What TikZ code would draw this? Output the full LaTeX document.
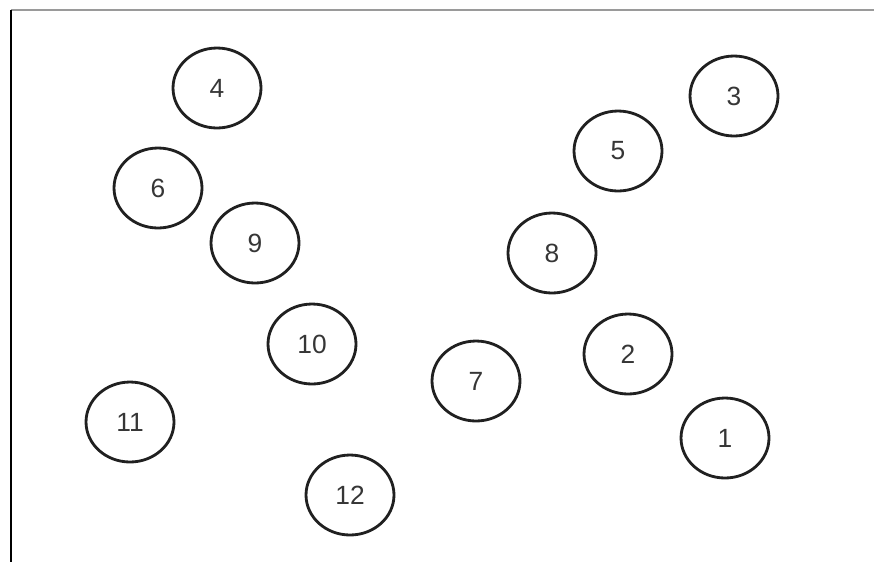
\documentclass[tikz,border=0pt]{standalone}
\usepackage{fontspec}
\setmainfont{Liberation Sans}
\usepackage{xcolor}
\usepackage{tikz}
\usetikzlibrary{shapes.geometric}
\definecolor{ringdark}{HTML}{202020}
\definecolor{framegray}{HTML}{9A9A9A}

\begin{document}
\begin{tikzpicture}[
  x=0.02cm, y=-0.02cm,
  numRing/.style={ellipse, draw=ringdark, line width=1.6pt, minimum width=1.76cm,
    minimum height=1.6cm, inner sep=0pt, font=\fontsize{15}{17}\selectfont\color{ringdark!90}},
  topEdge/.style={line width=1.1pt, color=framegray},
  leftEdge/.style={line width=1.5pt, color=black},
]
\useasboundingbox (0,0) rectangle (874,562);
\coordinate (tl) at (11,10);
\coordinate (tr) at (874,10);
\coordinate (bl) at (11,562);
\draw[topEdge] (tl) -- (tr);
\draw[leftEdge] (tl) -- (bl);
\foreach \i/\xx/\yy in {%
  1/725/438, 2/628/354, 3/734/96, 4/217/88,
  5/618/151, 6/158/188, 7/476/381, 8/552/253,
  9/255/243, 10/312/344, 11/130/422, 12/350/495%
} {
  \node[numRing] (n\i) at (\xx,\yy) {\i};
}
\end{tikzpicture}
\end{document}
